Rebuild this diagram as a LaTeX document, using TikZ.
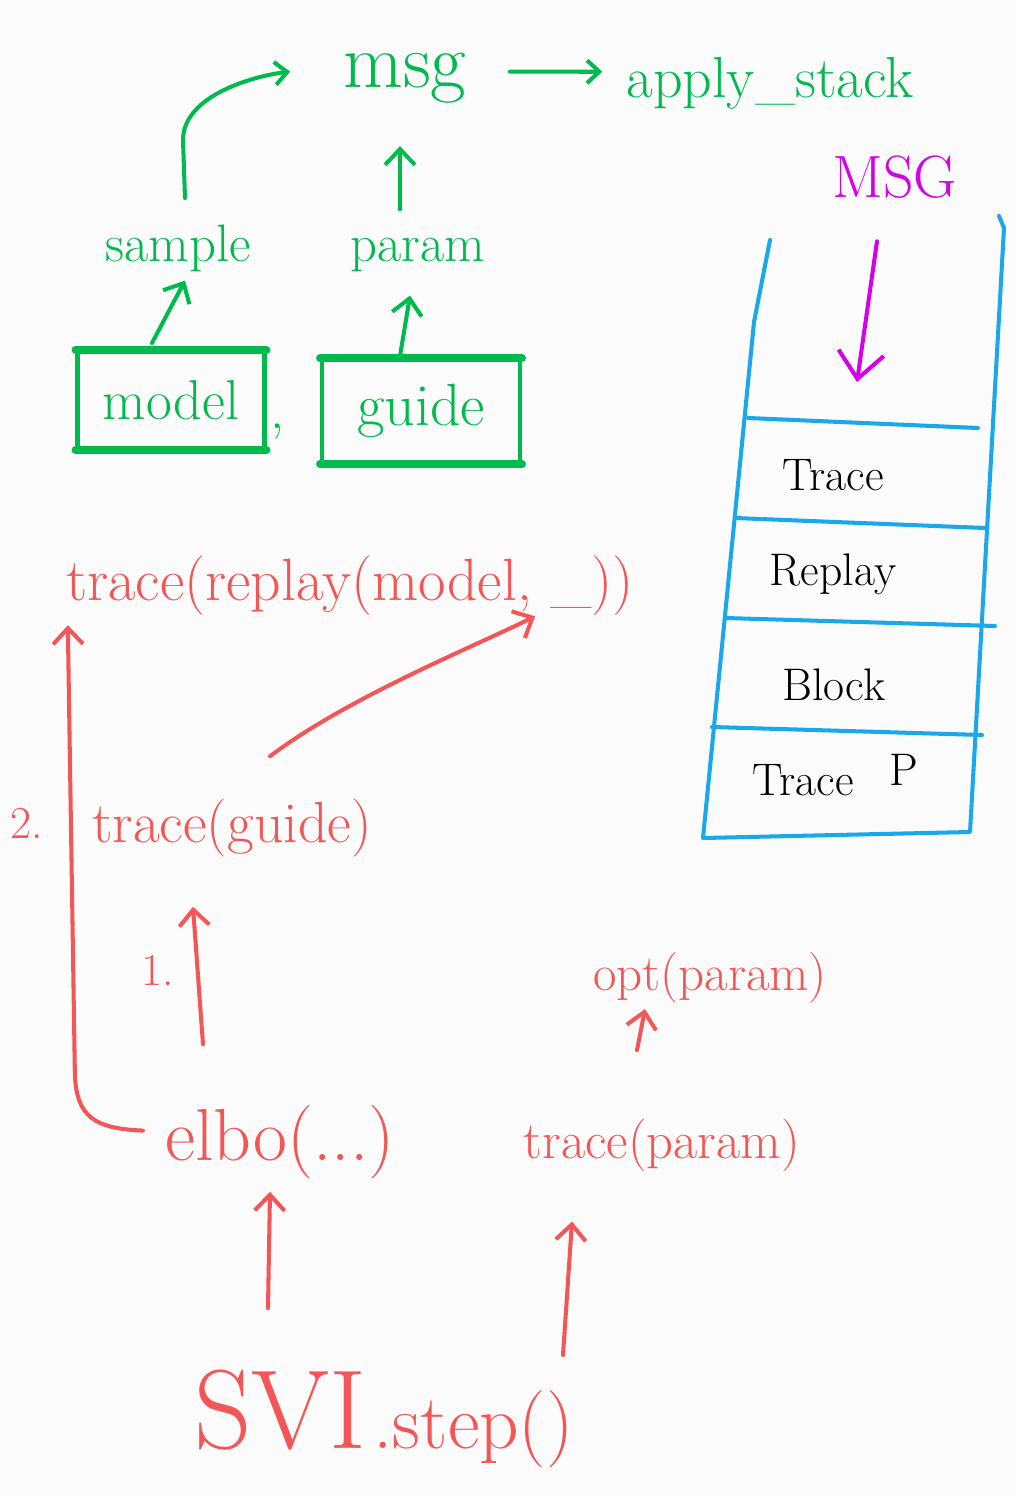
\documentclass[tikz,border=0pt]{standalone}
\usepackage{tikz}
\usetikzlibrary{arrows.meta}
\usetikzlibrary{calc}

\definecolor{penGreen}{RGB}{0,186,78}
\definecolor{penRed}{RGB}{243,86,86}
\definecolor{penBlue}{RGB}{26,168,234}
\definecolor{penPink}{RGB}{212,0,232}
\definecolor{paper}{RGB}{252,251,252}

\newcommand{\fs}[1]{\fontsize{#1}{#1}\selectfont}

\begin{document}
\begin{tikzpicture}[x=0.02cm,y=-0.02cm,line cap=round,line join=round,
		word/.style={anchor=base,inner sep=0pt},
		ink/.style={line width=2.3pt},
		barb/.style={-{Straight Barb[length=9pt,width=17pt]}},
		smallbarb/.style={-{Straight Barb[length=7pt,width=13pt]}}]

	\fill [paper] (0,0) rectangle (1016,1496);
	\useasboundingbox (0,0) rectangle (1016,1496);

	% green: model, guide and the msg
	\node (msg) [word,penGreen] at (405,88) {\fs{44}msg};
	\node (apply) [word,penGreen] at (770,98) {\fs{33}apply\_stack};
	\node (sample) [word,penGreen] at (178,262) {\fs{30}sample};
	\node (param) [word,penGreen] at (418,262) {\fs{30}param};
	\node (model) [draw,ink,penGreen,minimum width=3.74cm,minimum height=1.92cm] at (171,400) {\fs{32}model};
	\node (guide) [draw,ink,penGreen,minimum width=3.96cm,minimum height=2.04cm] at (421,411) {\fs{34}guide};
	\node (comma) [word,penGreen] at (278,428) {\fs{32},};

	\draw [penGreen,line width=4.5pt] (model.north west) -- (model.north east);
	\draw [penGreen,line width=4.5pt] (model.south west) -- (model.south east);
	\draw [penGreen,line width=4.5pt] (guide.north west) -- (guide.north east);
	\draw [penGreen,line width=4.5pt] (guide.south west) -- (guide.south east);

	\draw [penGreen,ink,barb] ($(model.north)+(-19,-7)$) -- ($(sample.south)+(7,8)$);
	\draw [penGreen,ink,barb] ($(guide.north)+(-21,-2)$) -- ($(param.south)+(-8,23)$);
	\draw [penGreen,ink,barb] ($(param.north)+(-18,-29)$) -- ($(msg.south)+(-5,42)$);
	\draw [penGreen,ink,smallbarb] ($(sample.north)+(7,-27)$) -- ++(-2,-58) .. controls +(0,-45) and +(-35,4) .. ($(msg.west)+(-53,-7)$);
	\draw [penGreen,ink,smallbarb] ($(msg.east)+(43,-7)$) -- ($(apply.west)+(-24,-12)$);

	% the stack
	\node (MSG) [word,penPink] at (895,198) {\fs{34}MSG};
	\coordinate (drop) at (857,382);
	\draw [penPink,ink,-{Straight Barb[length=15pt,width=26pt]}] ($(MSG.south)+(-18,42)$) -- (drop);

	\draw [penBlue,ink] (770,240) -- (754,322) -- (703,838) -- (970,832) -- (1004,228) -- (999,216);
	\foreach \xa/\ya/\xb/\yb in {748/418/978/428, 735/518/985/528, 725/618/995/626, 712/727/982/735}
		\draw [penBlue,ink] (\xa,\ya) -- (\xb,\yb);

	\node (trace1) [word] at (833,490) {\fs{26}Trace};
	\node (replay) [word] at (833,585) {\fs{26}Replay};
	\node (block) [word] at (834,700) {\fs{26}Block};
	\node (trace2) [word] at (803,795) {\fs{26}Trace};
	\node (pp) [word] at (904,785) {\fs{26}P};

	% red: what SVI.step() does
	\node (rtop) [word,penRed] at (350,600) {\fs{34}trace(replay(model,~\_))};
	\node (gtrace) [word,penRed] at (232,842) {\fs{33}trace(guide)};
	\node (two) [word,penRed] at (27,838) {\fs{26}2.};
	\node (one) [word,penRed] at (158,985) {\fs{26}1.};
	\node (elbo) [word,penRed] at (280,1160) {\fs{42}elbo(...)};
	\node (opt) [word,penRed] at (710,990) {\fs{29}opt(param)};
	\node (tparam) [word,penRed] at (662,1158) {\fs{30}trace(param)};
	\node (svi) [word,penRed] at (384,1448) {\fs{64}SVI\hspace{4pt}\fs{44}.step()};

	\draw [penRed,ink,barb] ($(svi.north)+(-116,-61)$) -- ($(elbo.south)+(-10,13)$);
	\draw [penRed,ink,barb] ($(svi.north)+(179,-14)$) -- ($(tparam.south)+(-90,50)$);
	\draw [penRed,ink,barb] ($(tparam.north)+(-25,-68)$) -- ($(opt.south)+(-65,6)$);
	\draw [penRed,ink,barb] ($(elbo.north)+(-77,-60)$) -- ($(gtrace.south)+(-39,50)$);
	\draw [penRed,ink,barb] ($(gtrace.north)+(38,-42)$) .. controls +(80,-60) and +(-60,30) .. ($(rtop.south)+(185,1)$);
	\draw [penRed,ink,barb] ($(elbo.west)+(-22,-11)$) .. controls +(-50,-2) and +(2,40) .. ++(-68,-55) -- ($(rtop.south west)+(2,10)$);

\end{tikzpicture}
\end{document}
